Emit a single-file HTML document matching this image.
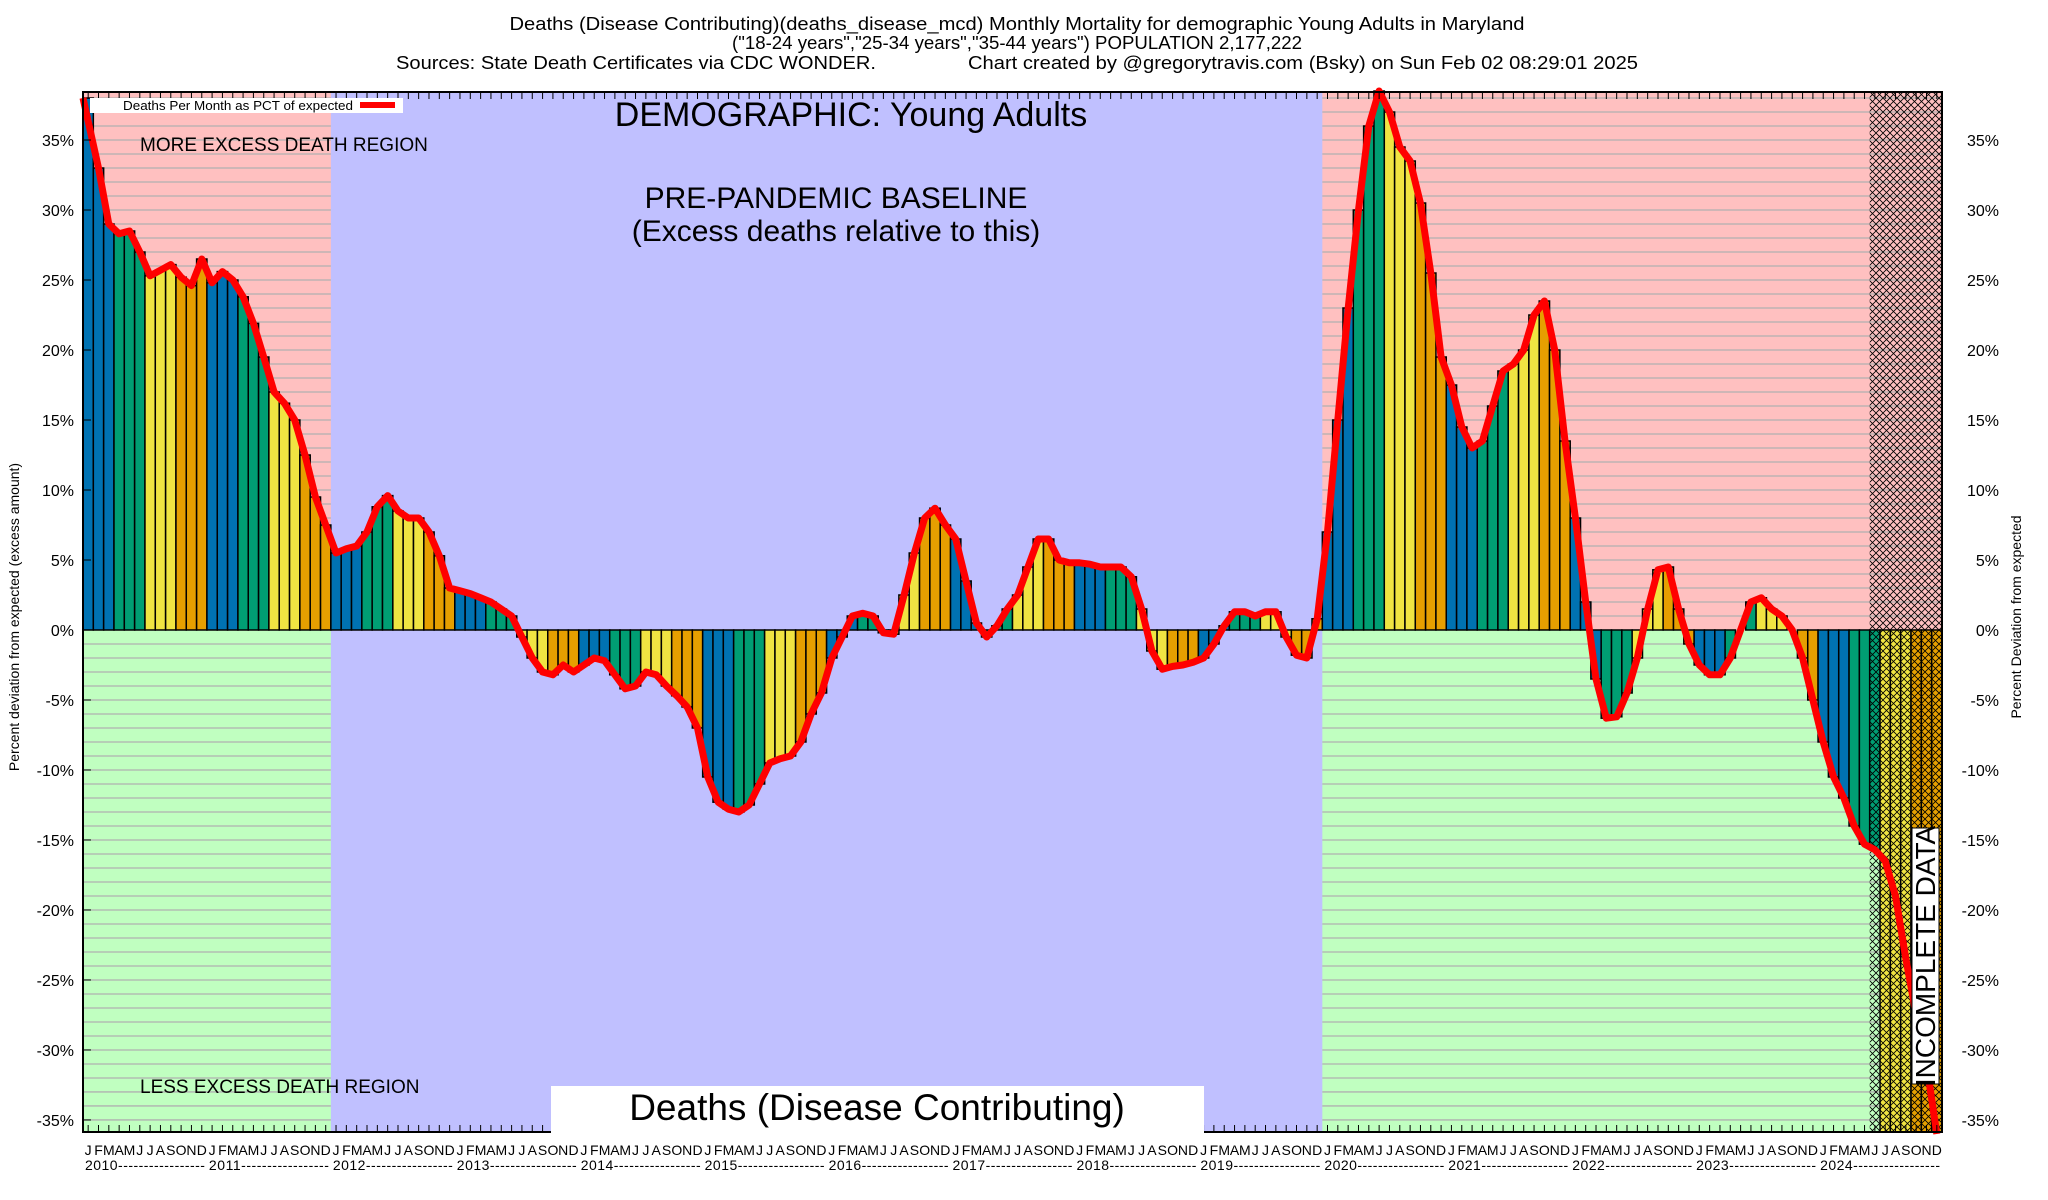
<!DOCTYPE html>
<html><head><meta charset="utf-8"><style>
html,body{margin:0;padding:0;background:#fff;}
svg{display:block;font-family:"Liberation Sans",sans-serif;}
</style></head><body>
<svg id="chart" width="2048" height="1200" viewBox="0 0 2048 1200" xmlns="http://www.w3.org/2000/svg">
<defs>
<pattern id="hatch" width="7" height="7" patternUnits="userSpaceOnUse">
<path d="M0,0 L7,7 M7,0 L0,7" stroke="#000" stroke-width="0.8"/>
</pattern>
</defs>
<g id="bg"></g>
<g id="grid"></g>
<g id="bars"></g>
<g id="hatchg"></g>
<g id="line"></g>
<g id="axes"></g>
<text x="1017" y="30" font-size="18" text-anchor="middle" textLength="1015" lengthAdjust="spacingAndGlyphs">Deaths (Disease Contributing)(deaths_disease_mcd) Monthly Mortality for demographic Young Adults in Maryland</text>
<text x="1017" y="49" font-size="18" text-anchor="middle" textLength="570" lengthAdjust="spacingAndGlyphs">("18-24 years","25-34 years","35-44 years") POPULATION 2,177,222</text>
<text x="396" y="69" font-size="18" textLength="480" lengthAdjust="spacingAndGlyphs">Sources: State Death Certificates via CDC WONDER.</text>
<text x="968" y="69" font-size="18" textLength="670" lengthAdjust="spacingAndGlyphs">Chart created by @gregorytravis.com (Bsky) on Sun Feb 02 08:29:01 2025</text>
<text x="851" y="126" font-size="34" text-anchor="middle">DEMOGRAPHIC: Young Adults</text>
<text x="836" y="208" font-size="30" text-anchor="middle">PRE-PANDEMIC BASELINE</text>
<text x="836" y="241" font-size="30" text-anchor="middle">(Excess deaths relative to this)</text>
<text x="140" y="151" font-size="19">MORE EXCESS DEATH REGION</text>
<text x="140" y="1093" font-size="19">LESS EXCESS DEATH REGION</text>
<rect x="551" y="1086" width="653" height="52" fill="#fff"/>
<text x="877" y="1120" font-size="37" text-anchor="middle">Deaths (Disease Contributing)</text>
<rect x="90" y="98" width="313" height="15" fill="#fff"/>
<text x="123" y="110" font-size="13" textLength="230" lengthAdjust="spacingAndGlyphs">Deaths Per Month as PCT of expected</text>
<rect x="360" y="102" width="35" height="6" fill="#ff0000"/>
<text transform="translate(19,617) rotate(-90)" font-size="14" text-anchor="middle">Percent deviation from expected (excess amount)</text>
<text transform="translate(2021,617) rotate(-90)" font-size="14" text-anchor="middle">Percent Deviation from expected</text>
<rect x="1912" y="828" width="27" height="256" fill="#fff" stroke="#000" stroke-width="1"/>
<text transform="translate(1935,956) rotate(-90)" font-size="28" text-anchor="middle">INCOMPLETE DATA</text>
</svg>
<script>
const years = [2010,2011,2012,2013,2014,2015,2016,2017,2018,2019,2020,2021,2022,2023,2024];
const monthLetters = ["J","F","M","A","M","J","J","A","S","O","N","D"];
const yTicks = [35,30,25,20,15,10,5,0,-5,-10,-15,-20,-25,-30,-35];
const pctLine = [
38,33,29,28.3,28.5,27,25.3,25.7,26.1,25.2,24.6,26.5,
24.8,25.6,25,23.8,21.9,19.5,17,16.2,15,12.5,9.5,7.5,
5.5,5.8,6,7,8.8,9.6,8.5,8,8,7,5.3,3,
2.8,2.6,2.3,2,1.5,1,-0.5,-2,-3,-3.2,-2.5,-3,
-2.5,-2,-2.2,-3.2,-4.2,-4,-3,-3.2,-4,-4.7,-5.5,-7,
-10.5,-12.3,-12.8,-13,-12.5,-11,-9.5,-9.2,-9,-8,-6,-4.5,
-2,-0.5,1,1.2,1,-0.2,-0.3,2.5,5.5,8,8.7,7.5,
6.5,3.5,0.5,-0.5,0.3,1.5,2.5,4.5,6.5,6.5,5,4.8,
4.8,4.7,4.5,4.5,4.5,3.8,1.5,-1.5,-2.8,-2.6,-2.5,-2.3,
-2,-1,0.3,1.3,1.3,1,1.3,1.3,-0.5,-1.8,-2,0.8,
7,15,23,30,36,38.5,37,34.5,33.5,30.5,25.5,19.5,
17.5,14.5,13,13.5,16,18.5,19,20,22.5,23.5,20,13.5,
8,2,-3.5,-6.3,-6.2,-4.5,-2,1.5,4.3,4.5,1.5,-1,
-2.5,-3.2,-3.2,-2,0,2,2.3,1.5,1,0,-2,-5,
-8,-10.5,-12,-14,-15.3,-15.7,-16.5,-19,-23.5,-27.5,-31,-36];
const pctBars = pctLine.map((v,i)=> i>=174 ? -40 : v);
const hatchStart = 173;
const excessRegionYears = [[2010,2011],[2020,2024]];

const X0=83, X1=1942, Y0=92, Y1=1132, N=180, MW=(X1-X0)/N;
const yMax=38.43, yMin=-35.86;
function yS(v){return Y0+(yMax-v)/(yMax-yMin)*(Y1-Y0);}
function xS(i){return X0+i*MW;}
const NS="http://www.w3.org/2000/svg";
function mk(tag,attrs,parent){const e=document.createElementNS(NS,tag);for(const k in attrs)e.setAttribute(k,attrs[k]);parent.appendChild(e);return e;}
const colors=["#0072b2","#009e73","#f0e442","#e69f00"];
const bg=document.getElementById('bg');
const y0=yS(0);
let r=mk('rect',{x:X0,y:Y0,width:X1-X0,height:Y1-Y0,fill:'#c0c0ff'},bg);


excessRegionYears.forEach(([a,b])=>{
  const xa=xS((a-2010)*12), xb=xS((b-2010+1)*12);
  let p=mk('rect',{x:xa,y:Y0,width:xb-xa,height:y0-Y0,fill:'#ffc0c0'},bg);
  
  
  let g=mk('rect',{x:xa,y:y0,width:xb-xa,height:Y1-y0,fill:'#c0ffc0'},bg);
  
  
  for(let v=Math.ceil(yMin);v<=Math.floor(yMax);v++){
    if(v===0)continue;
    let l=mk('line',{x1:xa,x2:xb,y1:yS(v),y2:yS(v),stroke:'#b0b0b0','stroke-width':1.3},bg);
    
    
  }
});
const bars=document.getElementById('bars');
pctBars.forEach((v,i)=>{
  const vv=Math.max(v,yMin);
  const ya=yS(Math.max(vv,0)), yb=yS(Math.min(vv,0));
  let b=mk('rect',{x:xS(i),y:ya,width:MW,height:yb-ya,fill:colors[Math.floor((i%12)/3)],stroke:'#000','stroke-width':1.5},bars);
  
  
});
const hg=document.getElementById('hatchg');
let h=mk('rect',{x:xS(hatchStart),y:Y0,width:X1-xS(hatchStart),height:Y1-Y0,fill:'url(#hatch)'},hg);


const lg=document.getElementById('line');
const pts=pctLine.map((v,i)=>[xS(i)+ (i===0?0:MW*0.5), yS(Math.max(v,yMin-0.5))]);
let pl=mk('polyline',{points:pts.map(p=>p[0].toFixed(1)+','+p[1].toFixed(1)).join(' '),fill:'none',stroke:'#ff0000','stroke-width':7,'stroke-linejoin':'round'},lg);


const ax=document.getElementById('axes');
let fr=mk('rect',{x:X0,y:Y0,width:X1-X0,height:Y1-Y0,fill:'none',stroke:'#000','stroke-width':2},ax);


for(let i=0;i<N;i++){
  const x=xS(i)+MW/2;
  let t=mk('line',{x1:x,x2:x,y1:Y1,y2:Y1-7,stroke:'#000','stroke-width':1},ax);
  
  
  let t2=mk('line',{x1:x,x2:x,y1:Y0,y2:Y0+7,stroke:'#000','stroke-width':1},ax);
  
  
  let ml=mk('text',{x:xS(i)+MW/2,y:1155,'font-size':14,'text-anchor':'middle'},ax);
  ml.textContent=monthLetters[i%12];
  
  
}
years.forEach((yr,k)=>{
  let yl=mk('text',{x:xS(k*12)+2,y:1170,'font-size':14,textLength:12*MW-4,lengthAdjust:'spacing'},ax);
  yl.textContent=yr+'-----------------';
  
  
});
yTicks.forEach(v=>{
  const y=yS(v);
  let a=mk('text',{x:74,y:y+6,'font-size':16,'text-anchor':'end'},ax);
  a.textContent=v+'%';
  
  
  let b=mk('text',{x:1999,y:y+6,'font-size':16,'text-anchor':'end'},ax);
  b.textContent=v+'%';
  
  
  let t=mk('line',{x1:X0,x2:X0+8,y1:y,y2:y,stroke:'#000','stroke-width':1},ax);
  
  
});
</script>
</body></html>
